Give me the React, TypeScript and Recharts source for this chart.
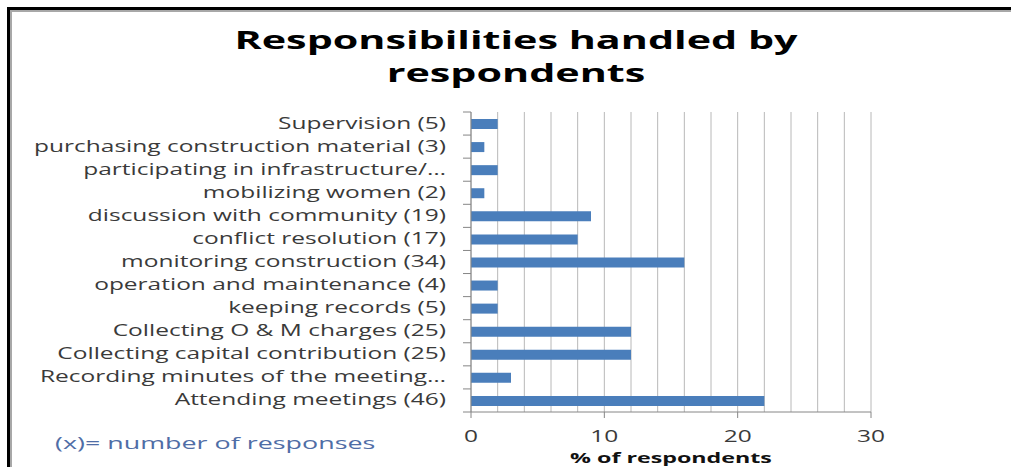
import React from "react";
import { BarChart, Bar, XAxis, YAxis, CartesianGrid } from "recharts";

const categories = [
  "Supervision (5)",
  "purchasing construction material (3)",
  "participating in infrastructure/…",
  "mobilizing women (2)",
  "discussion with community (19)",
  "conflict resolution (17)",
  "monitoring construction (34)",
  "operation and maintenance (4)",
  "keeping records (5)",
  "Collecting O & M charges (25)",
  "Collecting capital contribution (25)",
  "Recording minutes of the meeting…",
  "Attending meetings (46)",
];
const percentValues = [2, 1, 2, 1, 9, 8, 16, 2, 2, 12, 12, 3, 22];
const xTicks = [0, 2, 4, 6, 8, 10, 12, 14, 16, 18, 20, 22, 24, 26, 28, 30];
const labeledTicks = [0, 10, 20, 30];
const titleLines = ["Responsibilities handled by", "respondents"];
const xAxisTitle = "% of respondents";
const noteText = "(x)= number of responses";

const data = categories.map((name, i) => ({ name, value: percentValues[i] }));

const W = 1011;
const H = 467;
const PLOT_LEFT = 471;
const PLOT_RIGHT = 871;
const PLOT_TOP = 112;
const PLOT_BOTTOM = 412;
const BAND = (PLOT_BOTTOM - PLOT_TOP) / categories.length;
const FONT = "'Open Sans', sans-serif";
const SX_LABEL = 1.58;
const SX_TITLE = 1.55;
const SX_NOTE = 1.68;
const AXIS_COLOR = "#868686";
const TEXT_COLOR = "#3a3a3a";

const YTick = (props: any) => {
  const { x, y, payload, index } = props;
  const last = index === categories.length - 1;
  return (
    <g>
      <line x1={x - 8} x2={x} y1={y - BAND / 2} y2={y - BAND / 2} stroke={AXIS_COLOR} />
      {last && <line x1={x - 8} x2={x} y1={y + BAND / 2} y2={y + BAND / 2} stroke={AXIS_COLOR} />}
      <text
        transform={`translate(${x - 25},${y + 5}) scale(${SX_LABEL},1)`}
        textAnchor="end"
        fontFamily={FONT}
        fontSize={15.5}
        fill={TEXT_COLOR}
      >
        {payload.value}
      </text>
    </g>
  );
};

const XTick = (props: any) => {
  const { x, y, payload } = props;
  if (!labeledTicks.includes(payload.value)) return <g />;
  return (
    <g>
      <line x1={x} x2={x} y1={y} y2={y + 6} stroke={AXIS_COLOR} />
      <text
        transform={`translate(${x},${y + 30}) scale(${SX_LABEL},1)`}
        textAnchor="middle"
        fontFamily={FONT}
        fontSize={15.5}
        fill={TEXT_COLOR}
      >
        {payload.value}
      </text>
    </g>
  );
};

export default function App() {
  const cx = (PLOT_LEFT + PLOT_RIGHT) / 2;
  return (
    <div style={{ position: "absolute", left: 0, top: 0, width: W, height: H, background: "#ffffff", overflow: "hidden" }}>
      <BarChart
        width={W}
        height={H}
        data={data}
        layout="vertical"
        margin={{ top: PLOT_TOP, right: W - PLOT_RIGHT, bottom: 0, left: 0 }}
        barCategoryGap={0}
      >
        <CartesianGrid horizontal={false} stroke="#b8b8b8" />
        <XAxis
          type="number"
          domain={[0, 30]}
          ticks={xTicks}
          interval={0}
          height={H - PLOT_BOTTOM}
          tickSize={0}
          tickMargin={0}
          tickLine={false}
          axisLine={{ stroke: AXIS_COLOR }}
          tick={<XTick />}
        />
        <YAxis
          type="category"
          dataKey="name"
          width={PLOT_LEFT}
          interval={0}
          tickSize={0}
          tickMargin={0}
          tickLine={false}
          axisLine={{ stroke: AXIS_COLOR }}
          tick={<YTick />}
        />
        <Bar dataKey="value" fill="#4a7ebb" barSize={10} isAnimationActive={false} />
      </BarChart>
      <svg width={W} height={H} style={{ position: "absolute", left: 0, top: 0, pointerEvents: "none" }}>
        <rect x={7} y={7} width={3} height={H} fill="#000" />
        <rect x={7} y={7} width={W} height={3} fill="#000" />
        <rect x={10} y={10} width={2} height={H} fill="#a8a8a8" />
        <rect x={10} y={10} width={W} height={2} fill="#a8a8a8" />
        {titleLines.map((t, i) => (
          <text
            key={i}
            transform={`translate(516,${49 + i * 33}) scale(1.62,1)`}
            textAnchor="middle"
            fontFamily={FONT}
            fontWeight={700}
            fontSize={25.5}
            fill="#000"
          >
            {t}
          </text>
        ))}
        <text
          transform={`translate(${cx},463) scale(${SX_TITLE},1)`}
          textAnchor="middle"
          fontFamily={FONT}
          fontWeight={700}
          fontSize={15}
          fill="#111"
        >
          {xAxisTitle}
        </text>
        <text
          transform={`translate(55,449) scale(${SX_NOTE},1)`}
          textAnchor="start"
          fontFamily={FONT}
          fontSize={16}
          fill="#4f6da6"
        >
          {noteText}
        </text>
      </svg>
    </div>
  );
}
